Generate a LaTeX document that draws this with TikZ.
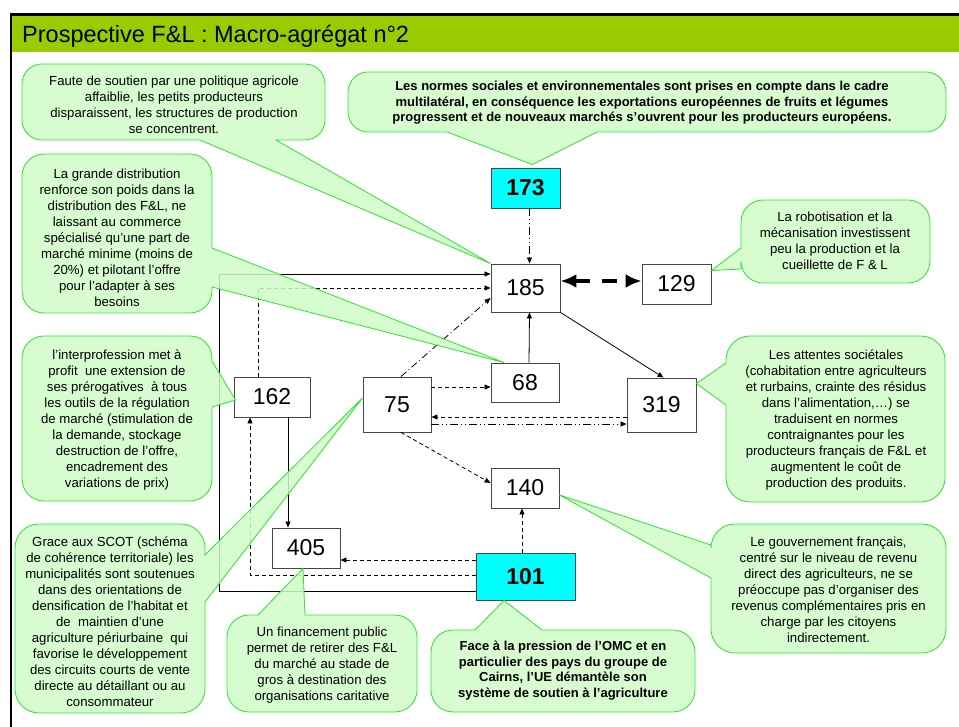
\documentclass[tikz,border=0pt]{standalone}
\usepackage{fontspec}
\setmainfont{Liberation Sans}
\usetikzlibrary{arrows.meta, positioning, calc}
\definecolor{titlegreen}{RGB}{153,204,0}
\definecolor{bubblefill}{RGB}{208,252,200}
\definecolor{bubbleline}{RGB}{40,232,40}
\definecolor{keycyan}{RGB}{0,255,255}
\definecolor{boxgray}{RGB}{70,70,70}

\begin{document}
\begin{tikzpicture}[
    x=1pt, y=-1pt,
    bloc/.style={rectangle, draw=boxgray, fill=white, line width=0.9pt, inner sep=0pt, minimum width=69pt, minimum height=40pt, font=\fontsize{23}{25}\selectfont},
    cle/.style={bloc, fill=keycyan, font=\fontsize{23}{25}\selectfont\bfseries},
    bulle/.style={draw=bubbleline, fill=bubblefill, fill opacity=0.85, line width=0.8pt},
    note/.style={align=center, inner sep=0pt, font=\fontsize{13.2}{16}\selectfont},
    notebf/.style={align=center, inner sep=0pt, font=\fontsize{13}{15.5}\selectfont\bfseries},
    link/.style={-{Triangle[length=6pt,width=5pt]}, line width=0.8pt},
    tiret/.style={link, dash pattern=on 4pt off 3pt},
    tiretpoint/.style={link, dash pattern=on 7pt off 3pt on 1pt off 3pt},
    tiretpoints/.style={link, dash pattern=on 8pt off 3pt on 1pt off 3pt on 1pt off 3pt}
]
\useasboundingbox (0,0) rectangle (959,727);

% Frame and title bar
\fill[titlegreen] (12,15.5) rectangle (959,52.5);
\draw[line width=2.5pt] (10,14.3) -- (959,14.3);
\draw[line width=2pt] (11,13) -- (11,727);
\node[anchor=base west, inner sep=0pt, font=\fontsize{23.5}{25}\selectfont] (titre) at (22,43) {Prospective F\&L : Macro-agrégat n°2};

% Variables
\node[cle] (n173) at (525.5,188) {173};
\node[bloc, minimum height=48pt] (n185) at (525.5,288) {185};
\node[bloc] (n129) at (676.5,284) {129};
\node[bloc, minimum width=68pt, minimum height=39pt] (n68) at (525,382.5) {68};
\node[bloc, minimum height=54pt] (n319) at (661.5,405) {319};
\node[bloc, minimum width=68pt, minimum height=55pt] (n75) at (397,404.5) {75};
\node[bloc, minimum width=76pt] (n162) at (272,397) {162};
\node[bloc, minimum width=68pt] (n140) at (525,488) {140};
\node[bloc, minimum width=68pt] (n405) at (306,548) {405};
\node[cle, minimum width=99pt, minimum height=47pt] (n101) at (525.5,576.5) {101};
\coordinate (retour) at (219,274);

% Links between variables
\draw[tiretpoints] ([xshift=4pt]n173.south) -- ([xshift=4pt]n185.north);
\draw[{Latex[length=16pt,width=14pt]}-{Latex[length=16pt,width=14pt]}, line width=3.5pt, dash pattern=on 15pt off 12pt]
    ([yshift=7pt]n185.east) -- ([yshift=7pt]n185.east -| n129.west);
\draw[link] ([xshift=4pt]n68.north) -- ([xshift=4pt]n185.south);
\draw[link] (n185.south east) -- ([xshift=2pt]n319.north);
\draw[tiret] ([yshift=17.5pt]n75.east) -- ([yshift=17.5pt]n75.east -| n68.west);
\draw[tiret] ([yshift=-12.5pt]n75.east -| n319.west) -- ([yshift=-12.5pt]n75.east);
\draw[tiretpoints] ([yshift=-19.5pt]n75.east) -- ([yshift=-19.5pt]n75.east -| n319.west);
\draw[tiretpoint] ([xshift=4pt]n75.north) -- ([yshift=-10pt]n185.west);
\draw[tiret] ([xshift=4pt]n75.south) -- ([yshift=5pt]n140.west);
\draw[tiret] ([xshift=-3.5pt]n101.north) -- ([xshift=-3.5pt]n101.north |- n140.south);
\draw[tiret] ([yshift=16.5pt]n101.west) -- ([yshift=16.5pt]n101.west -| n405.east);
\draw[link] ([xshift=16pt]n162.south) -- ([xshift=16pt]n162.south |- n405.north);
\draw[tiret] ([yshift=1.5pt]n101.west) -| ([xshift=-22pt]n162.south);
\draw[link] ([yshift=-14.5pt]n101.west) -| (retour) -- ([yshift=14pt]n185.west);
\draw[tiret] ([xshift=-14pt]n162.north) |- (n185.west);

% Callouts
\path[bulle] (170,64) [rounded corners=20pt] -- (325,64) -- (325,140) [sharp corners] -- (276,140) -- (n185.north west) -- (200,140) [rounded corners=20pt] -- (22,140) -- (22,64) -- cycle;
\node[note] (bFaute) at (174,105) {Faute de soutien par une politique agricole\\affaiblie, les petits producteurs\\disparaissent, les structures de production\\se concentrent.};

\path[bulle] (600,72) [rounded corners=20pt] -- (946,72) -- (946,132) [sharp corners] -- (597,132) -- ([xshift=7pt,yshift=3pt]n173.north) -- (447,132) [rounded corners=20pt] -- (348,132) -- (348,72) -- cycle;
\node[notebf] (bNormes) at (642,103) {Les normes sociales et environnementales sont prises en compte dans le cadre\\multilatéral, en conséquence les exportations européennes de fruits et légumes\\progressent et de nouveaux marchés s'ouvrent pour les producteurs européens.};

\path[bulle] (117,154) [rounded corners=22pt] -- (212,154) [sharp corners] -- (212,248) -- ([xshift=-21pt]n68.north) -- (212,287) [rounded corners=22pt] -- (212,313) -- (22,313) -- (22,154) -- cycle;
\node[note] (bGD) at (117,238) {La grande distribution\\renforce son poids dans la\\distribution des F\&L, ne\\laissant au commerce\\spécialisé qu'une part de\\marché minime (moins de\\20\%) et pilotant l'offre\\pour l’adapter à ses\\besoins};

\path[bulle] (117,336) [rounded corners=22pt] -- (212,336) [sharp corners] -- (212,361) -- ([xshift=2pt,yshift=-3pt]n162.west) -- (212,407) [rounded corners=22pt] -- (212,501) -- (22,501) -- (22,336) -- cycle;
\node[note] (bInter) at (117,420) {l’interprofession met à\\profit\ \ une extension de\\ses prérogatives\ \ à tous\\les outils de la régulation\\de marché (stimulation de\\la demande, stockage\\destruction de l’offre,\\encadrement des\\variations de prix)};

\path[bulle] (110,524) [rounded corners=24pt] -- (205,524) [sharp corners] -- (205,555) -- ([yshift=6.5pt]n75.west) -- (205,602) [rounded corners=24pt] -- (205,713) -- (15,713) -- (15,524) -- cycle;
\node[note] (bScot) at (110,622) {Grace aux SCOT (schéma\\de cohérence territoriale) les\\municipalités sont soutenues\\dans des orientations de\\densification de l’habitat et\\de\ \ maintien d’une\\agriculture périurbaine\ \ qui\\favorise le développement\\des circuits courts de vente\\directe au détaillant ou au\\consommateur};

\path[bulle] (227,660) [rounded corners=22pt] -- (227,615) [sharp corners] -- (258,615) -- ([xshift=-3pt]n405.south) -- (305,615) [rounded corners=22pt] -- (417,615) -- (417,712) -- (227,712) -- cycle;
\node[note] (bFinance) at (322,665) {Un financement public\\permet de retirer des F\&L\\du marché au stade de\\gros à destination des\\organisations caritative};

\path[bulle] (431,670) [rounded corners=22pt] -- (431,630) [sharp corners] -- (475,630) -- ([xshift=-21.5pt]n101.south) -- (542,630) [rounded corners=22pt] -- (695,630) -- (695,712) -- (431,712) -- cycle;
\node[notebf] (bOMC) at (563,670.5) {Face à la pression de l’OMC et en\\particulier des pays du groupe de\\Cairns, l’UE démantèle son\\système de soutien à l’agriculture};

\path[bulle] (835,200) [rounded corners=22pt] -- (930,200) -- (930,283) -- (741,283) [sharp corners] -- (741,269) -- ([yshift=-7pt]n129.north east) -- (741,248) [rounded corners=22pt] -- (741,200) -- cycle;
\node[note] (bRobot) at (835,241) {La robotisation et la\\mécanisation investissent\\peu la production et la\\cueillette de F \& L};

\path[bulle] (836,336) [rounded corners=24pt] -- (945,336) -- (945,502) -- (726,502) [sharp corners] -- (726,405) -- ([yshift=-6pt]n319.north east) -- (726,363) [rounded corners=24pt] -- (726,336) -- cycle;
\node[note] (bAttentes) at (836,420) {Les attentes sociétales\\(cohabitation entre agriculteurs\\et rurbains, crainte des résidus\\dans l’alimentation,…) se\\traduisent en normes\\contraignantes pour les\\producteurs français de F\&L et\\augmentent le coût de\\production des produits.};

\path[bulle] (828,524) [rounded corners=24pt] -- (946,524) -- (946,653) -- (711,653) [sharp corners] -- (711,578) -- ([yshift=-7pt]n140.east) -- (711,545) [rounded corners=24pt] -- (711,524) -- cycle;
\node[note] (bGouv) at (828.5,590) {Le gouvernement français,\\centré sur le niveau de revenu\\direct des agriculteurs, ne se\\préoccupe pas d’organiser des\\revenus complémentaires pris en\\charge par les citoyens\\indirectement.};

\end{tikzpicture}
\end{document}
